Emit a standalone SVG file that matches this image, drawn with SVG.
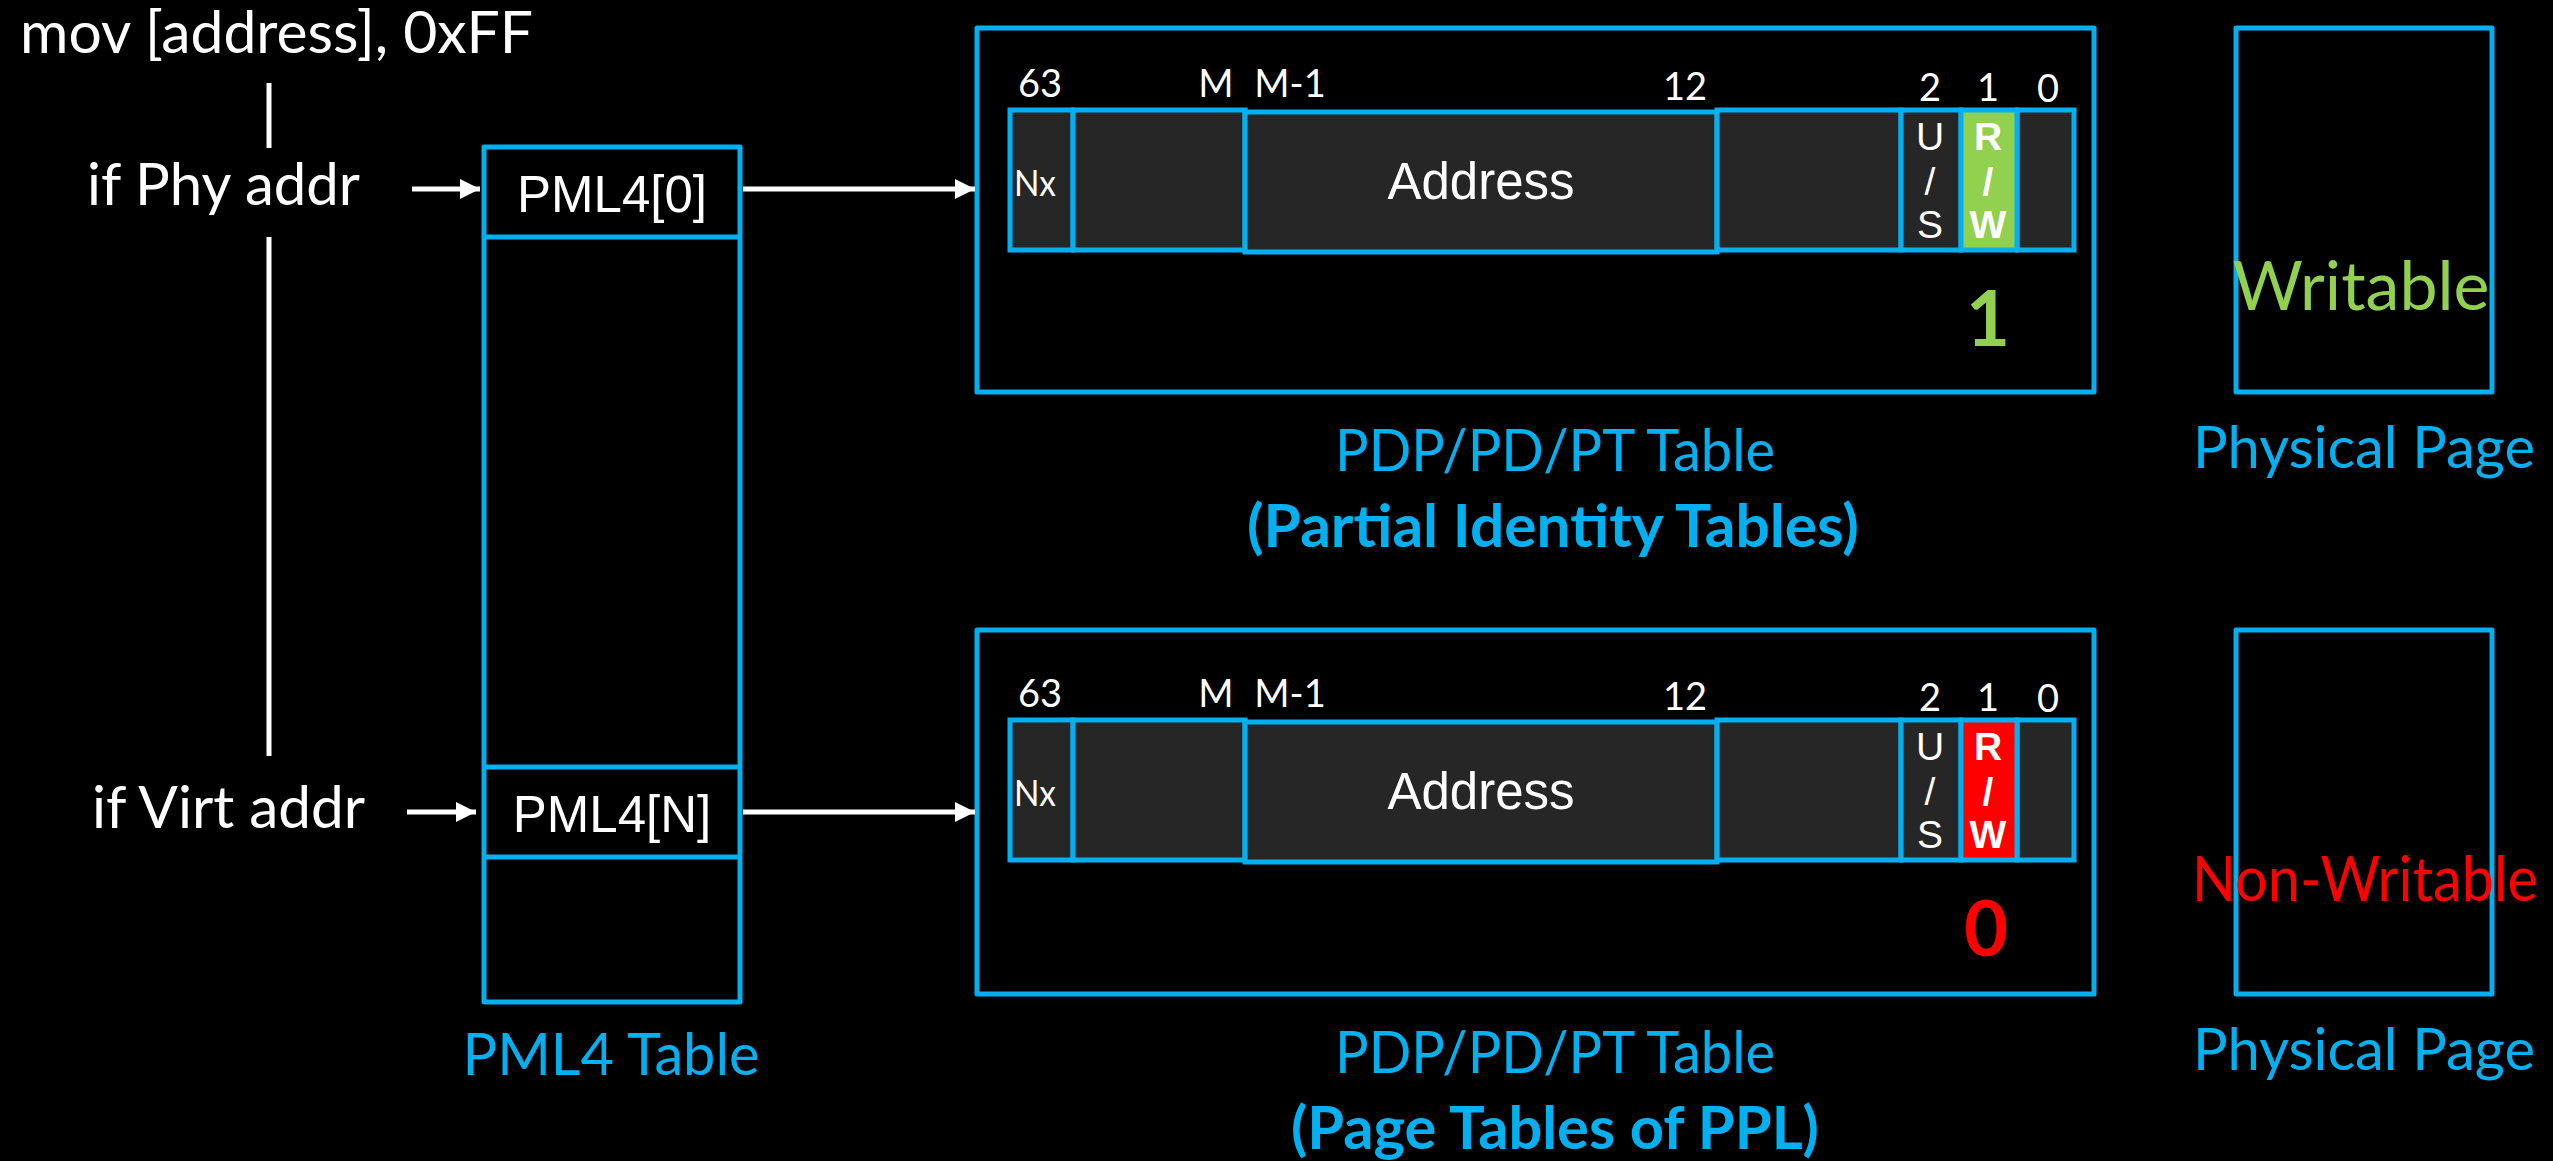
<svg xmlns="http://www.w3.org/2000/svg" width="2553" height="1161" viewBox="0 0 2553 1161">
<defs>
<style>
.bg{fill:#000}
.blue{fill:none;stroke:#00B0F0;stroke-width:5;stroke-linejoin:round}
.cell{fill:#262626;stroke:#00B0F0;stroke-width:5}
.wline{stroke:#fff;stroke-width:5;fill:none}
.lbl{font-family:Lato,"Open Sans",sans-serif;font-size:59px}
.wt{fill:#fff}
.bl{fill:#00B0F0}
.bold{font-weight:bold}
.ar{font-family:"Liberation Sans",Arial,sans-serif}
.bit{font-family:Lato,"Open Sans",sans-serif;font-size:38px;fill:#fff;text-anchor:middle}
.mid{text-anchor:middle}
</style>
<marker id="ah" markerUnits="userSpaceOnUse" markerWidth="20" markerHeight="20" refX="20" refY="10" orient="auto">
<path d="M0,0 L20,10 L0,20 z" fill="#fff"/>
</marker>
<g id="bitrow">
<rect class="cell" x="1010" y="110" width="63" height="140"/>
<rect class="cell" x="1073" y="110" width="172" height="140"/>
<rect class="cell" x="1245" y="112" width="472" height="140"/>
<rect class="cell" x="1717" y="110" width="184" height="140"/>
<rect class="cell" x="1901" y="110" width="60" height="140"/>
<rect class="cell" x="2017" y="110" width="57" height="140"/>
<text class="bit" x="1040" y="97">63</text>
<text class="bit" x="1216" y="97">M</text>
<text class="bit" x="1290" y="97">M-1</text>
<text class="bit" x="1685" y="100">12</text>
<text class="bit" x="1930" y="101">2</text>
<text class="bit" x="1988" y="101">1</text>
<text class="bit" x="2048" y="102">0</text>
<text x="1014" y="196" font-family="Lato,'Open Sans',sans-serif" font-size="36" fill="#fff" textLength="42" lengthAdjust="spacingAndGlyphs">Nx</text>
<text class="ar mid wt" x="1481" y="199" font-size="51">Address</text>
<g class="ar mid wt" font-size="39">
<text x="1930" y="150">U</text>
<text x="1930" y="195">/</text>
<text x="1930" y="238">S</text>
</g>
</g>
</defs>
<rect class="bg" x="0" y="0" width="2553" height="1161"/>

<g id="instruction">
<text class="lbl wt" x="20" y="53" textLength="513" lengthAdjust="spacingAndGlyphs">mov [address], 0xFF</text>
<text class="lbl wt" x="87" y="205" textLength="273" lengthAdjust="spacingAndGlyphs">if Phy addr</text>
<text class="lbl wt" x="92" y="828" textLength="273" lengthAdjust="spacingAndGlyphs">if Virt addr</text>
</g>

<g id="pml4-table">
<rect class="blue" x="484" y="147" width="256" height="855"/>
<line class="blue" x1="484" y1="237" x2="740" y2="237"/>
<line class="blue" x1="484" y1="767" x2="740" y2="767"/>
<line class="blue" x1="484" y1="857" x2="740" y2="857"/>
<text class="ar mid wt" x="612" y="212" font-size="51">PML4[0]</text>
<text class="ar mid wt" x="612" y="832" font-size="51">PML4[N]</text>
<text class="lbl bl mid" x="611" y="1075" textLength="297" lengthAdjust="spacingAndGlyphs">PML4 Table</text>
</g>

<g id="pdp-identity">
<rect class="blue" x="977" y="28" width="1117" height="364"/>
<use href="#bitrow"/>
<rect x="1961" y="110" width="56" height="140" fill="#92D050" stroke="#00B0F0" stroke-width="5"/>
<g class="ar mid wt bold" font-size="39">
<text x="1988" y="150">R</text>
<text x="1988" y="195">/</text>
<text x="1988" y="238">W</text>
</g>
<text class="mid bold" x="1988" y="346" font-family="Lato,'Open Sans',sans-serif" font-size="76" fill="#92D050">1</text>
<text class="lbl bl mid" x="1555" y="471" textLength="440" lengthAdjust="spacingAndGlyphs">PDP/PD/PT Table</text>
<text class="lbl bl mid bold" x="1553" y="547" textLength="612" lengthAdjust="spacingAndGlyphs">(Partial Identity Tables)</text>
</g>

<g id="pdp-ppl">
<rect class="blue" x="977" y="630" width="1117" height="364"/>
<use href="#bitrow" y="610"/>
<rect x="1961" y="720" width="56" height="140" fill="#FF0000" stroke="#00B0F0" stroke-width="5"/>
<g class="ar mid wt bold" font-size="39">
<text x="1988" y="760">R</text>
<text x="1988" y="805">/</text>
<text x="1988" y="848">W</text>
</g>
<text class="mid bold" x="1986" y="956" font-family="Lato,'Open Sans',sans-serif" font-size="76" fill="#FF0000">0</text>
<text class="lbl bl mid" x="1555" y="1073" textLength="440" lengthAdjust="spacingAndGlyphs">PDP/PD/PT Table</text>
<text class="lbl bl mid bold" x="1555" y="1149" textLength="528" lengthAdjust="spacingAndGlyphs">(Page Tables of PPL)</text>
</g>

<g id="page-writable">
<rect class="blue" x="2236" y="28" width="256" height="364"/>
<text class="mid" x="2361" y="310" font-family="Lato,'Open Sans',sans-serif" font-size="67" fill="#92D050" textLength="257" lengthAdjust="spacingAndGlyphs">Writable</text>
<text class="lbl bl mid" x="2364" y="468" textLength="342" lengthAdjust="spacingAndGlyphs">Physical Page</text>
</g>

<g id="page-nonwritable">
<rect class="blue" x="2236" y="630" width="256" height="364"/>
<text class="mid" x="2365" y="901" font-family="Lato,'Open Sans',sans-serif" font-size="61" fill="#FF0000" textLength="346" lengthAdjust="spacingAndGlyphs">Non-Writable</text>
<text class="lbl bl mid" x="2364" y="1070" textLength="342" lengthAdjust="spacingAndGlyphs">Physical Page</text>
</g>

<g id="connectors">
<line class="wline" x1="269" y1="83" x2="269" y2="148"/>
<line class="wline" x1="269" y1="237" x2="269" y2="756"/>
<line class="wline" x1="412" y1="189" x2="480" y2="189" marker-end="url(#ah)"/>
<line class="wline" x1="407" y1="812" x2="476" y2="812" marker-end="url(#ah)"/>
<line class="wline" x1="743" y1="189" x2="975" y2="189" marker-end="url(#ah)"/>
<line class="wline" x1="743" y1="812" x2="975" y2="812" marker-end="url(#ah)"/>
</g>
</svg>
